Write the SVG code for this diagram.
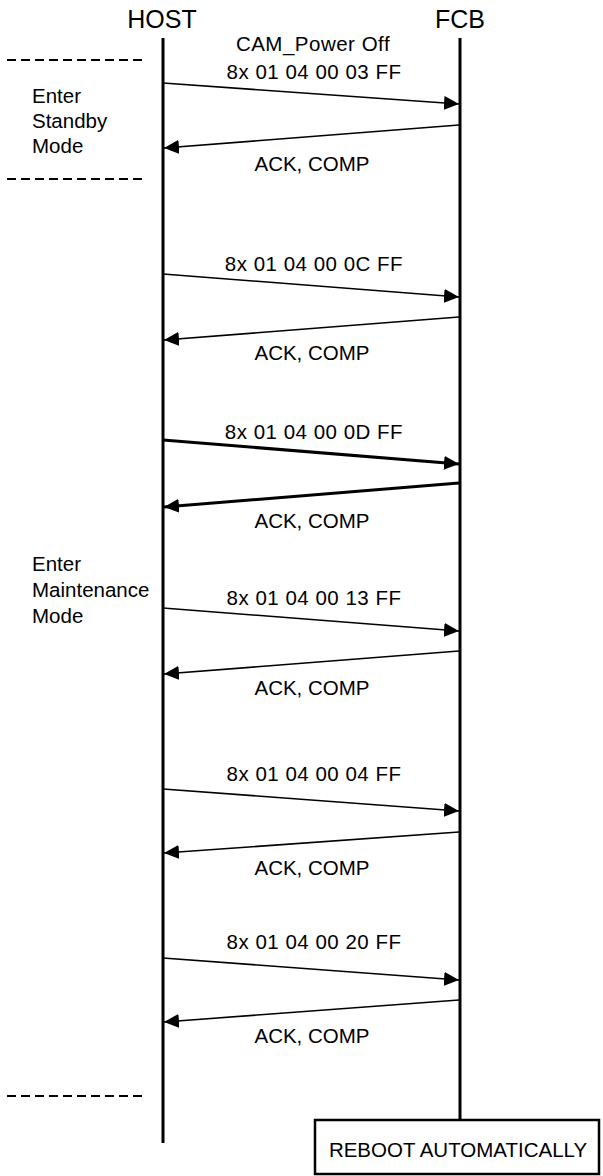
<svg xmlns="http://www.w3.org/2000/svg" width="603" height="1176" viewBox="0 0 603 1176">
<style>
text{font-family:"Liberation Sans",Arial,sans-serif;fill:#000}
.t{font-size:20.5px}
.c{text-anchor:middle}
.w{letter-spacing:0.5px}
.h{font-size:25px;text-anchor:middle}
.life{stroke:#000;stroke-width:3;fill:none}
.msg{stroke:#000;stroke-width:1.6;fill:none;marker-end:url(#ah)}
.thick{stroke-width:3}
.dash{stroke:#000;stroke-width:2;stroke-dasharray:9,5;fill:none}
</style>
<defs>
<marker id="ah" markerUnits="userSpaceOnUse" markerWidth="16" markerHeight="14" refX="15" refY="7" orient="auto">
<path d="M0,0 L15,7 L0,14 Z" fill="#000"/>
</marker>
</defs>
<g id="host"><text class="h" x="162" y="28">HOST</text><line class="life" x1="163" y1="38" x2="163" y2="1143"/></g>
<g id="fcb"><text class="h" x="460" y="28">FCB</text><line class="life" x1="460" y1="38" x2="460" y2="1120"/></g>
<g id="reboot"><rect x="315" y="1120" width="284" height="54" fill="#fff" stroke="#000" stroke-width="2.5"/><text class="t c" x="458" y="1157">REBOOT AUTOMATICALLY</text></g>
<g id="dividers">
<line class="dash" x1="7" y1="60" x2="146" y2="60"/>
<line class="dash" x1="7" y1="179" x2="146" y2="179"/>
<line class="dash" x1="7" y1="1096" x2="146" y2="1096"/>
</g>
<g id="notes">
<text class="t" x="32" y="103">Enter</text><text class="t" x="32" y="128">Standby</text><text class="t" x="32" y="153">Mode</text>
<text class="t" x="32" y="571">Enter</text><text class="t" x="32" y="597">Maintenance</text><text class="t" x="32" y="623">Mode</text>
</g>
<g id="connectors">
<line class="msg" x1="163" y1="83" x2="459" y2="104"/>
<line class="msg" x1="459" y1="125" x2="164" y2="148"/>
<line class="msg" x1="163" y1="274" x2="459" y2="297"/>
<line class="msg" x1="459" y1="317" x2="164" y2="340"/>
<line class="msg thick" x1="163" y1="440" x2="459" y2="464"/>
<line class="msg thick" x1="459" y1="483" x2="164" y2="507"/>
<line class="msg" x1="163" y1="608" x2="459" y2="631"/>
<line class="msg" x1="459" y1="651" x2="164" y2="674"/>
<line class="msg" x1="163" y1="789" x2="459" y2="811"/>
<line class="msg" x1="459" y1="832" x2="164" y2="853"/>
<line class="msg" x1="163" y1="958" x2="459" y2="980"/>
<line class="msg" x1="459" y1="1000" x2="164" y2="1022"/>
</g>
<g id="labels">
<text class="t c w" x="313" y="51">CAM_Power Off</text>
<text class="t c w" x="314" y="79">8x 01 04 00 03 FF</text>
<text class="t c" x="312" y="171">ACK, COMP</text>
<text class="t c w" x="314" y="271">8x 01 04 00 0C FF</text>
<text class="t c" x="312" y="360">ACK, COMP</text>
<text class="t c w" x="314" y="439">8x 01 04 00 0D FF</text>
<text class="t c" x="312" y="528">ACK, COMP</text>
<text class="t c w" x="314" y="605">8x 01 04 00 13 FF</text>
<text class="t c" x="312" y="695">ACK, COMP</text>
<text class="t c w" x="314" y="781">8x 01 04 00 04 FF</text>
<text class="t c" x="312" y="875">ACK, COMP</text>
<text class="t c w" x="314" y="949">8x 01 04 00 20 FF</text>
<text class="t c" x="312" y="1043">ACK, COMP</text>
</g>
</svg>
